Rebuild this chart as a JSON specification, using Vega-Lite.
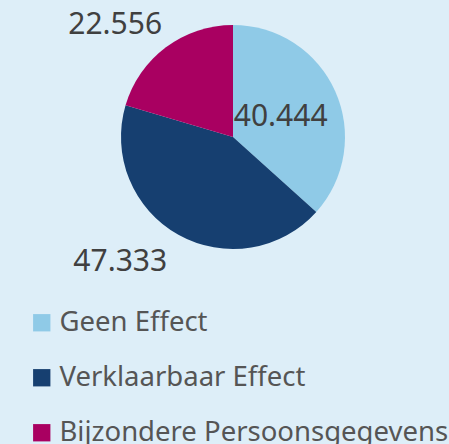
{
  "$schema": "https://vega.github.io/schema/vega-lite/v6.json",
  "autosize": {"type": "none"},
  "width": 432,
  "height": 274,
  "padding": {"left": 17, "top": 0, "right": 0, "bottom": 170},
  "background": "#ddeef8",
  "config": {"view": {"stroke": null}, "font": "Noto Sans"},
  "data": {"values": [
    {"idx": 1, "cat": "Geen Effect", "value": 40.444},
    {"idx": 2, "cat": "Verklaarbaar Effect", "value": 47.333},
    {"idx": 3, "cat": "Bijzondere Persoonsgegevens", "value": 22.556}
  ]},
  "encoding": {
    "theta": {"field": "value", "type": "quantitative", "stack": true},
    "order": {"field": "idx", "type": "quantitative", "sort": "ascending"}
  },
  "layer": [
    {
      "mark": {"type": "arc", "outerRadius": 112, "strokeWidth": 0},
      "encoding": {
        "color": {
          "field": "cat", "type": "nominal",
          "scale": {"domain": ["Geen Effect", "Verklaarbaar Effect", "Bijzondere Persoonsgegevens"], "range": ["#8fcae7", "#163f70", "#a90061"]},
          "sort": ["Geen Effect", "Verklaarbaar Effect", "Bijzondere Persoonsgegevens"],
          "legend": {
            "title": null, "orient": "none", "legendX": 11, "legendY": 309,
            "symbolType": "square", "symbolSize": 300, "symbolStrokeWidth": 0,
            "labelFontSize": 27.5, "labelColor": "#555555", "labelFont": "Noto Sans",
            "labelOffset": 4, "rowPadding": 26, "padding": 0, "labelLimit": 500
          }
        }
      }
    },
    {
      "mark": {"type": "text", "radius": 50, "dx": 2, "fontSize": 30, "color": "#404040"},
      "encoding": {"text": {"condition": {"test": "datum.idx === 1", "field": "value", "format": ".3f"}, "value": ""}}
    },
    {
      "mark": {"type": "text", "radius": 143, "dx": -43, "fontSize": 30, "color": "#404040"},
      "encoding": {"text": {"condition": {"test": "datum.idx === 2", "field": "value", "format": ".3f"}, "value": ""}}
    },
    {
      "mark": {"type": "text", "radius": 150, "dx": -28, "dy": 8, "fontSize": 30, "color": "#404040"},
      "encoding": {"text": {"condition": {"test": "datum.idx === 3", "field": "value", "format": ".3f"}, "value": ""}}
    }
  ]
}
